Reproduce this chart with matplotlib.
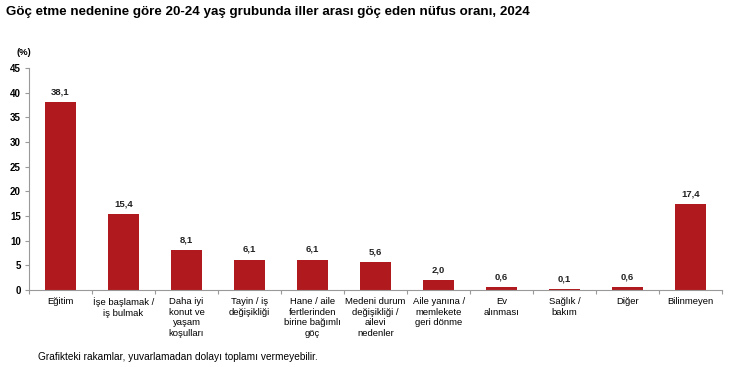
import matplotlib
matplotlib.use('Agg')
import matplotlib.pyplot as plt
import numpy as np

plt.rcParams['font.family'] = ['Liberation Sans', 'DejaVu Sans']

# Veri
categories = [
    'Eğitim', 'İşe başlamak /\niş bulmak', 'Daha iyi\nkonut ve\nyaşam\nkoşulları',
    'Tayin / iş\ndeğişikliği', 'Hane / aile\nfertlerinden\nbirine bağımlı\ngöç',
    'Medeni durum\ndeğişikliği /\nailevi\nnedenler', 'Aile yanına /\nmemlekete\ngeri dönme',
    'Ev\nalınması', 'Sağlık /\nbakım', 'Diğer', 'Bilinmeyen',
]
values = [38.1, 15.4, 8.1, 6.1, 6.1, 5.6, 2.0, 0.6, 0.1, 0.6, 17.4]
yticks = [0, 5, 10, 15, 20, 25, 30, 35, 40, 45]

fig = plt.figure(figsize=(7.32, 3.67), dpi=100)
ax = fig.add_axes([0.0396, 0.210, 0.947, 0.605])

x = np.arange(len(categories))
ax.bar(x, values, width=0.5, color='#B0191E', zorder=2)

for xi, v in zip(x, values):
    ax.text(xi, v + 1.2, f'{v:.1f}'.replace('.', ','), ha='center', va='bottom',
            fontsize=6.8, fontweight='bold', color='#222222')

ax.set_xlim(-0.5, len(categories) - 0.5)
ax.set_ylim(0, 45)
ax.set_yticks(yticks)
ax.set_yticklabels([str(t) for t in yticks], fontsize=7, fontweight='bold')

# x ekseni: kategori sınırlarında tik işaretleri
ax.set_xticks(np.arange(-0.5, len(categories) + 0.5, 1), minor=False)
ax.set_xticklabels([])
ax.tick_params(axis='x', which='major', length=3, color='#999999', direction='out')
ax.set_xticks(x, minor=True)
ax.set_xticklabels(categories, minor=True, fontsize=6.8, linespacing=1.25)
ax.tick_params(axis='x', which='minor', length=0, pad=5)
ax.tick_params(axis='y', length=3, color='#999999', pad=3)

for s in ['top', 'right']:
    ax.spines[s].set_visible(False)
ax.spines['left'].set_color('#999999')
ax.spines['bottom'].set_color('#999999')

fig.text(0.008, 0.968, 'Göç etme nedenine göre 20-24 yaş grubunda iller arası göç eden nüfus oranı, 2024',
         fontsize=9.6, fontweight='bold', va='center', ha='left')
fig.text(0.032, 0.858, '(%)', fontsize=6.8, fontweight='bold', ha='center', va='center')
fig.text(0.052, 0.026, 'Grafikteki rakamlar, yuvarlamadan dolayı toplamı vermeyebilir.',
         fontsize=7.3, ha='left', va='center')

fig.savefig('out.png', dpi=100, facecolor='white')
plt.close(fig)
